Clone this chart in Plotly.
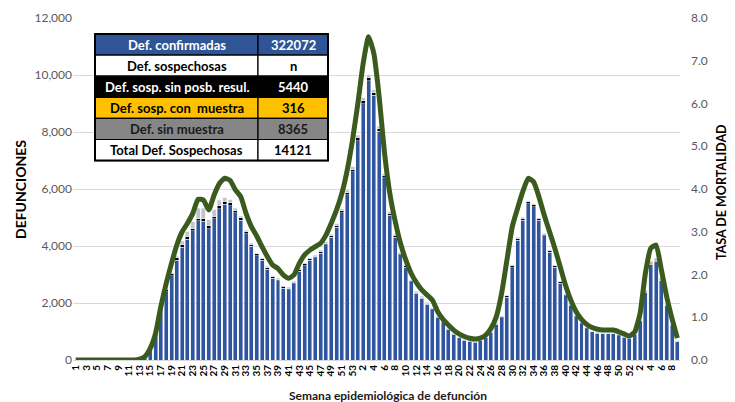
import plotly.graph_objects as go

# ---------------- DATA ----------------
weeks_2020 = list(range(1, 54))
weeks_2021 = list(range(1, 53))
weeks_2022 = list(range(1, 10))
week_labels = [str(w) for w in weeks_2020 + weeks_2021 + weeks_2022]

confirmadas = [
    0, 0, 0, 0, 0, 0, 0, 0, 0, 0, 0, 5, 40, 150, 450, 1000, 1750, 2400, 2950, 3500,
    3950, 4230, 4530, 4880, 4870, 4610, 4950, 5310, 5460, 5420, 5160, 4900, 4430, 3990, 3650, 3500,
    3190, 2870, 2780, 2520, 2470, 2670, 3120, 3310, 3500, 3580, 3750, 4040, 4300, 4650, 5170, 5800,
    6610, 7690, 8990, 9800, 9290, 8020, 6390, 5080, 4300, 3690, 3260, 2740, 2340, 2170, 1960, 1770,
    1500, 1310, 1080, 910, 775, 685, 650, 630, 685, 800, 970, 1255, 1490, 2200, 3240, 4200,
    4900, 5480, 5370, 4900, 4360, 3780, 3250, 2700, 2260, 1925, 1520, 1280, 1105, 990, 935, 915,
    915, 915, 855, 795, 760, 900, 1350, 2380, 3360, 3470, 2800, 1920, 1210, 650,
]
sosp_sin_posib = [
    0, 0, 0, 0, 0, 0, 0, 0, 0, 0, 0, 0, 0, 5, 15, 30, 45, 60, 70, 80,
    90, 95, 95, 100, 100, 95, 100, 100, 100, 95, 90, 90, 80, 75, 70, 65,
    65, 60, 60, 55, 55, 55, 60, 60, 60, 60, 65, 65, 70, 75, 80, 85,
    90, 100, 110, 110, 105, 95, 80, 70, 65, 60, 55, 50, 45, 40, 40, 35,
    35, 30, 30, 30, 25, 25, 25, 25, 25, 25, 30, 35, 40, 50, 60, 65,
    70, 70, 70, 65, 60, 55, 50, 45, 40, 35, 30, 30, 25, 25, 25, 25,
    25, 25, 25, 25, 25, 25, 25, 30, 30, 30, 30, 25, 20, 15,
]
sosp_con_muestra = [0] * 105 + [10, 20, 40, 60, 60, 50, 40, 25, 15]
sin_muestra = [
    0, 0, 0, 0, 0, 0, 0, 0, 0, 0, 0, 0, 0, 0, 5, 10, 20, 30, 40, 60,
    120, 180, 230, 340, 350, 220, 230, 200, 130, 100, 70, 50, 40, 35, 30, 30,
    30, 30, 30, 30, 30, 30, 35, 35, 35, 40, 40, 45, 50, 55, 60, 70,
    80, 90, 100, 100, 90, 80, 60, 50, 40, 35, 30, 25, 25, 20, 20, 20,
    20, 15, 15, 15, 15, 15, 15, 15, 15, 15, 15, 20, 25, 30, 35, 40,
    45, 45, 40, 35, 30, 30, 25, 20, 20, 15, 15, 15, 15, 15, 15, 15,
    15, 15, 15, 15, 15, 15, 15, 20, 25, 25, 20, 15, 10, 10,
]
tasa_mortalidad = [
    0, 0, 0, 0, 0, 0, 0, 0, 0, 0, 0, 0, 0.02, 0.08, 0.27, 0.62, 1.25, 1.79, 2.26, 2.69,
    3.00, 3.20, 3.43, 3.76, 3.74, 3.51, 3.86, 4.13, 4.25, 4.20, 3.98, 3.82, 3.43, 3.12, 2.90, 2.65,
    2.42, 2.22, 2.14, 1.99, 1.91, 1.99, 2.26, 2.46, 2.57, 2.65, 2.73, 2.92, 3.20, 3.51, 3.90, 4.44,
    5.15, 6.00, 6.94, 7.56, 7.17, 6.16, 4.85, 3.90, 3.25, 2.73, 2.34, 2.03, 1.81, 1.64, 1.52, 1.40,
    1.13, 0.95, 0.82, 0.70, 0.61, 0.55, 0.51, 0.49, 0.51, 0.58, 0.74, 1.01, 1.56, 2.34, 3.12, 3.55,
    3.95, 4.25, 4.17, 3.82, 3.39, 3.00, 2.61, 2.18, 1.75, 1.40, 1.13, 0.95, 0.83, 0.76, 0.72, 0.70,
    0.70, 0.70, 0.66, 0.61, 0.56, 0.66, 1.09, 2.03, 2.61, 2.69, 2.11, 1.48, 0.97, 0.51,
]

left_ticks = [0, 2000, 4000, 6000, 8000, 10000, 12000]
right_ticks = [0, 1, 2, 3, 4, 5, 6, 7, 8]

table_labels = ["Def. confirmadas", "Def. sospechosas", "Def. sosp. sin posb. resul.",
                "Def. sosp. con  muestra", "Def. sin muestra", "Total Def. Sospechosas"]
table_values = ["322072", "n", "5440", "316", "8365", "14121"]
table_fills = ["#2F5597", "#FFFFFF", "#000000", "#FFC000", "#868686", "#FFFFFF"]
table_text = ["#FFFFFF", "#000000", "#FFFFFF", "#000000", "#1a1a1a", "#000000"]

# ---------------- FIGURE ----------------
x = list(range(len(week_labels)))
OFF = 8  # default page margin of the html body
W, H = 735 - OFF, 402 - OFF
ML, MR, MT, MB = 73 - OFF, 55, 18 - OFF, 42
PW, PH = W - ML - MR, H - MT - MB


def px_x(p):
    return (p - OFF - ML) / PW


def px_y(p):
    return (H - MB - (p - OFF)) / PH


fig = go.Figure()
fig.add_bar(x=x, y=confirmadas, marker_color="#2F55A0", name="Def. confirmadas")
fig.add_bar(x=x, y=sosp_sin_posib, marker_color="#000000", name="Def. sosp. sin posb. resul.")
fig.add_bar(x=x, y=sosp_con_muestra, marker_color="#FFC000", name="Def. sosp. con muestra")
fig.add_bar(x=x, y=sin_muestra, marker_color="#C4C4C4", name="Def. sin muestra")
fig.add_scatter(x=x, y=tasa_mortalidad, yaxis="y2", mode="lines",
                line=dict(color="#3A5A1E", width=5, shape="spline", smoothing=0.5),
                name="Tasa de mortalidad")

fig.update_layout(
    width=W, height=H,
    margin=dict(l=ML, r=MR, t=MT, b=MB, autoexpand=False),
    barmode="stack", bargap=0.25,
    showlegend=False,
    plot_bgcolor="white", paper_bgcolor="white",
    font=dict(family="Lato, sans-serif"),
    xaxis=dict(
        range=[-0.5, len(x) - 0.5], automargin=False,
        tickmode="array", tickvals=x[::2], ticktext=week_labels[::2],
        tickangle=-90, ticks="", showgrid=False,
        tickfont=dict(size=10, color="#000000", weight="bold"),
        showline=True, linecolor="#d9d9d9", linewidth=1,
    ),
    yaxis=dict(
        range=[0, 12000], tickmode="array", tickvals=left_ticks, automargin=False,
        tickformat=",", gridcolor="#d9d9d9", gridwidth=1, zeroline=False,
        tickfont=dict(size=12, color="#595959"), ticks="",
    ),
    yaxis2=dict(
        range=[0, 8], overlaying="y", side="right", tickmode="array", automargin=False,
        tickvals=right_ticks, tickformat=".1f", showgrid=False, zeroline=False,
        tickfont=dict(size=12, color="#595959"), ticks="", ticklabelstandoff=10,
    ),
)

# axis titles
fig.add_annotation(x=px_x(20), y=px_y(189), xref="paper", yref="paper",
                   xanchor="center", yanchor="middle",
                   text="<b>DEFUNCIONES</b>", textangle=-90, showarrow=False,
                   font=dict(size=14, color="#000000"))
fig.add_annotation(x=px_x(721), y=px_y(192), xref="paper", yref="paper",
                   xanchor="center", yanchor="middle",
                   text="<b>TASA DE MORTALIDAD</b>", textangle=-90, showarrow=False,
                   font=dict(size=12.5, color="#000000"))
fig.add_annotation(x=px_x(388), y=px_y(395), xref="paper", yref="paper",
                   xanchor="center", yanchor="middle",
                   text="Semana epidemiológica de defunción", showarrow=False,
                   font=dict(size=12, color="#1a1a1a", weight="bold"))

# summary table
tx0, txm, tx1 = 95, 258, 328
ty0, rh = 34, 21.1
for i, (lab, val, fc, tc) in enumerate(zip(table_labels, table_values, table_fills, table_text)):
    yt = ty0 + i * rh
    yb = yt + rh
    for (a, b, t) in ((tx0, txm, lab), (txm, tx1, val)):
        fig.add_shape(type="rect", xref="paper", yref="paper",
                      x0=px_x(a), x1=px_x(b), y0=px_y(yb), y1=px_y(yt),
                      fillcolor=fc, line=dict(color="#000000", width=1.2), layer="above")
        fig.add_annotation(x=px_x((a + b) / 2), y=px_y((yt + yb) / 2), xref="paper", yref="paper",
                           xanchor="center", yanchor="middle",
                           text="<b>" + t + "</b>", showarrow=False,
                           font=dict(size=13, color=tc))
fig.add_shape(type="rect", xref="paper", yref="paper",
              x0=px_x(tx0), x1=px_x(tx1), y0=px_y(ty0 + 6 * rh), y1=px_y(ty0),
              line=dict(color="#000000", width=2), layer="above")

fig.write_html("out.html")
